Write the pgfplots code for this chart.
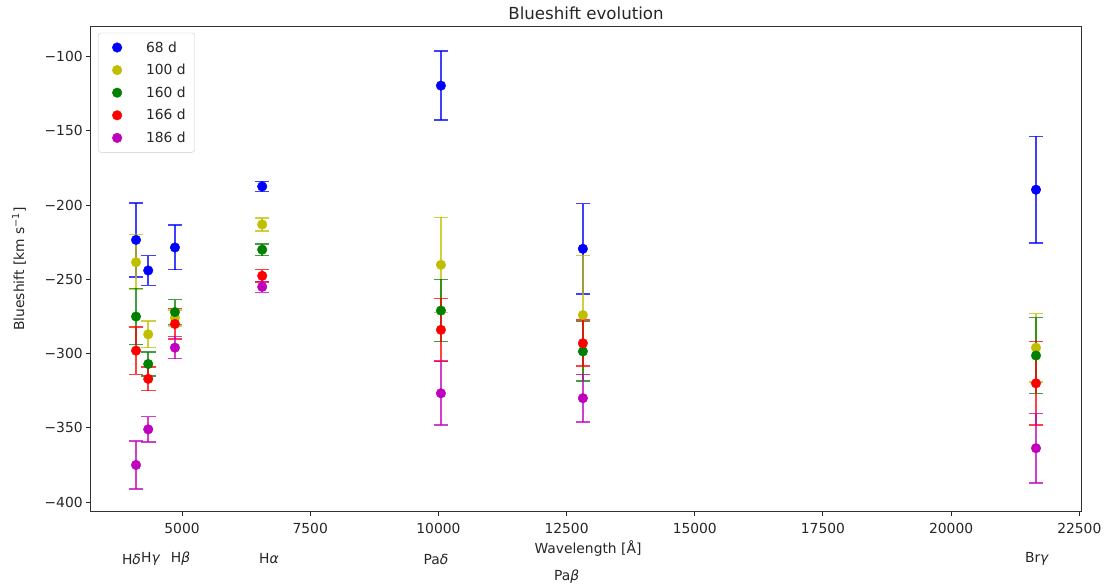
\documentclass[border=0pt]{standalone}
\usepackage{pgfplots}
\pgfplotsset{compat=1.18}
\usepackage{fontspec}
\setmainfont{DejaVu Sans}

\definecolor{mb}{rgb}{0,0,1}
\definecolor{my}{rgb}{0.75,0.75,0}
\definecolor{mg}{rgb}{0,0.5,0}
\definecolor{mr}{rgb}{1,0,0}
\definecolor{mm}{rgb}{0.75,0,0.75}
\definecolor{txt}{rgb}{0.15,0.15,0.15}

\begin{document}
\begin{tikzpicture}
\begin{axis}[
  scale only axis, width=990bp, height=484bp,
  xmin=3224, xmax=22533, ymin=-406, ymax=-80,
  scaled ticks=false,
  xtick={5000,7500,10000,12500,15000,17500,20000,22500},
  xticklabels={5000,7500,10000,12500,15000,17500,20000,22500},
  ytick={-400,-350,-300,-250,-200,-150,-100},
  yticklabels={−400,−350,−300,−250,−200,−150,−100},
  tick align=outside, tick pos=left, major tick length=4.8bp,
  tick style={black!85, line width=1bp},
  axis line style={black!80, line width=1bp},
  tick label style={font=\fontsize{13.9}{16}\selectfont, text=txt},
  xticklabel style={yshift=-3.5bp},
  clip=false,
  legend style={at={(0.007,0.988)}, anchor=north west, draw=black!20, rounded corners=3bp,
    font=\fontsize{13.9}{16}\selectfont, text=txt, row sep=6.6bp, inner xsep=7bp, inner ysep=6.5bp},
  legend cell align=left,
  legend image code/.code={\path[draw=none,fill=none] (0bp,0bp) -- (39bp,0bp); \draw[#1] plot[only marks] coordinates {(12bp,0bp)};},
  error bars/y dir=both, error bars/y explicit,
  error bars/error bar style={line width=1.5bp, opacity=0.75},
  error bars/error mark options={line width=1.5bp, mark size=7.3bp, opacity=0.75, rotate=90},
]
\addplot[only marks, mark=*, mark size=4.8bp, color=mb] coordinates {
 (4102,-223.4) +- (0,25.0)
 (4340,-244.0) +- (0,10.0)
 (4861,-228.5) +- (0,15.0)
 (6563,-187.4) +- (0,3.5)
 (10049,-119.5) +- (0,23.3)
 (12818,-229.4) +- (0,30.5)
 (21655,-189.6) +- (0,36.0)
};
\addlegendentry{68 d}
\addplot[only marks, mark=*, mark size=4.8bp, color=my] coordinates {
 (4102,-238.4) +- (0,18.5)
 (4340,-287.0) +- (0,9.0)
 (4861,-276.0) +- (0,5.5)
 (6563,-213.0) +- (0,4.5)
 (10049,-240.2) +- (0,32.0)
 (12818,-274.0) +- (0,40.0)
 (21655,-296.0) +- (0,23.0)
};
\addlegendentry{100 d}
\addplot[only marks, mark=*, mark size=4.8bp, color=mg] coordinates {
 (4102,-275.0) +- (0,19.0)
 (4340,-307.0) +- (0,8.0)
 (4861,-272.0) +- (0,8.3)
 (6563,-230.0) +- (0,4.0)
 (10049,-271.0) +- (0,21.0)
 (12818,-298.5) +- (0,20.0)
 (21655,-301.3) +- (0,25.5)
};
\addlegendentry{160 d}
\addplot[only marks, mark=*, mark size=4.8bp, color=mr] coordinates {
 (4102,-298.0) +- (0,16.0)
 (4340,-317.0) +- (0,8.0)
 (4861,-280.0) +- (0,10.3)
 (6563,-247.6) +- (0,4.2)
 (10049,-284.0) +- (0,21.0)
 (12818,-293.0) +- (0,15.5)
 (21655,-320.0) +- (0,28.0)
};
\addlegendentry{166 d}
\addplot[only marks, mark=*, mark size=4.8bp, color=mm] coordinates {
 (4102,-375.0) +- (0,16.3)
 (4340,-351.0) +- (0,8.5)
 (4861,-296.0) +- (0,7.4)
 (6563,-255.0) +- (0,3.7)
 (10049,-326.7) +- (0,21.3)
 (12818,-330.0) +- (0,16.0)
 (21655,-363.7) +- (0,23.5)
};
\addlegendentry{186 d}
\coordinate (O) at (rel axis cs:0,0);
\end{axis}
\path ([shift={(-91bp,-76bp)}]O) rectangle ([shift={(1015bp,511bp)}]O);
\node[text=txt, font=\fontsize{16.7}{19}\selectfont] at ([shift={(495bp,498bp)}]O) {Blueshift evolution};
\node[text=txt, font=\fontsize{13.9}{16}\selectfont] at ([shift={(497bp,-38bp)}]O) {Wavelength [Å]};
\node[text=txt, font=\fontsize{13.9}{16}\selectfont, rotate=90] at ([shift={(-72bp,242bp)}]O) {Blueshift [km s\textsuperscript{−1}]};
\begin{scope}[every node/.style={text=txt, font=\fontsize{13.9}{16}\selectfont, inner sep=0pt}]
\node at ([shift={(40.5bp,-48bp)}]O) {H\textit{δ}};
\node at ([shift={(59.8bp,-48bp)}]O) {H\textit{γ}};
\node at ([shift={(89.5bp,-48bp)}]O) {H\textit{β}};
\node at ([shift={(178bp,-48bp)}]O) {H\textit{α}};
\node at ([shift={(345bp,-48bp)}]O) {Pa\textit{δ}};
\node at ([shift={(475.7bp,-66bp)}]O) {Pa\textit{β}};
\node at ([shift={(946bp,-48bp)}]O) {Br\textit{γ}};
\end{scope}
\end{tikzpicture}
\end{document}
